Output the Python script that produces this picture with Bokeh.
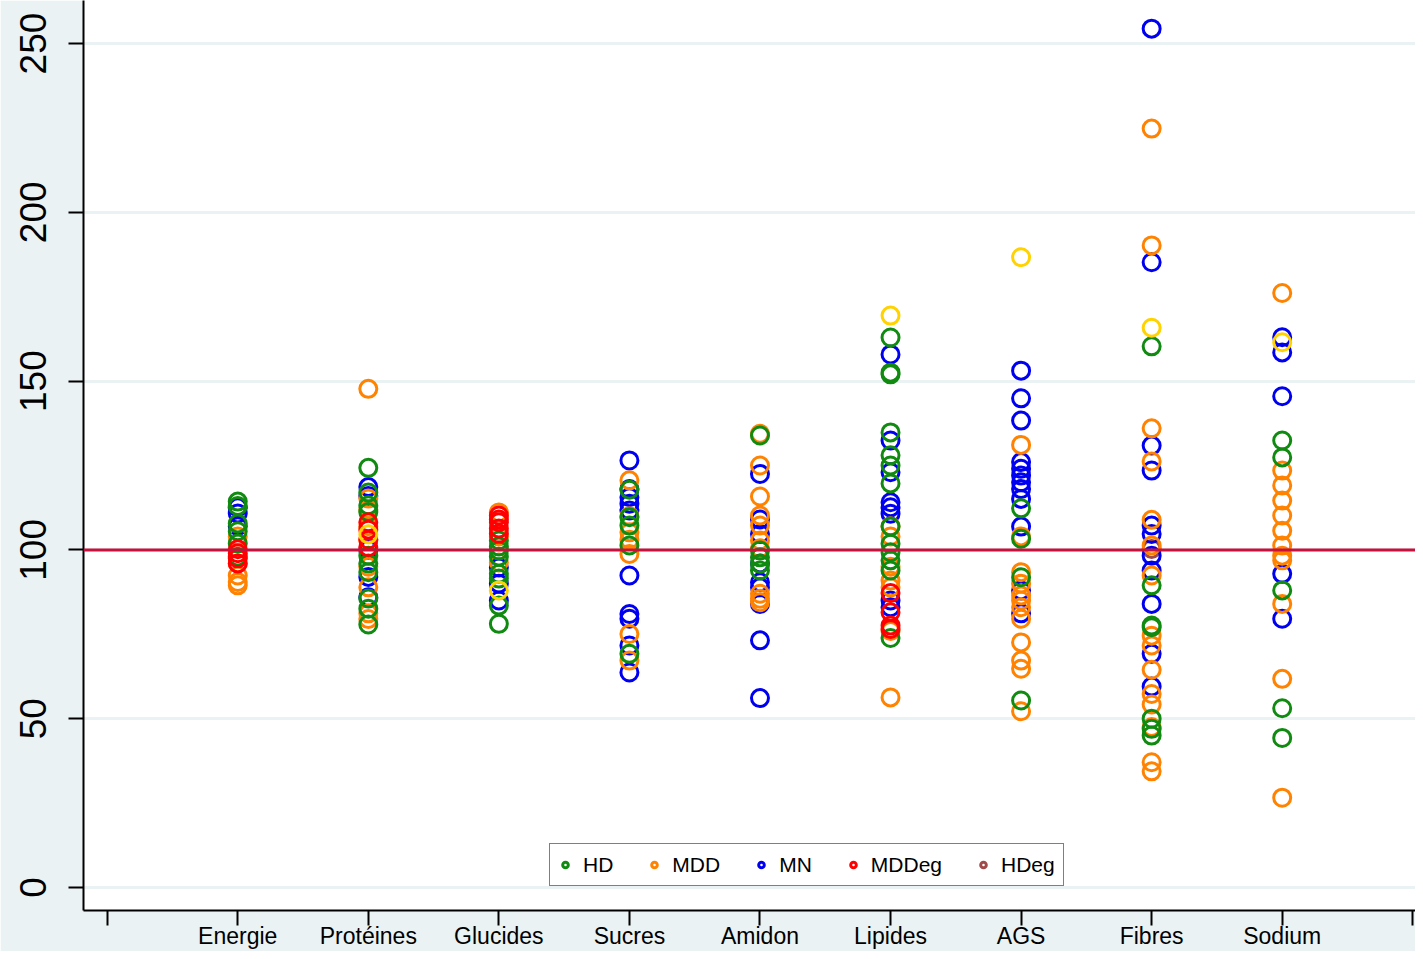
from bokeh.plotting import figure
from bokeh.models import Span, FixedTicker, Legend, LegendItem, ColumnDataSource
from bokeh.embed import file_html
from bokeh.resources import INLINE

categories = ["Energie", "Protéines", "Glucides", "Sucres", "Amidon",
              "Lipides", "AGS", "Fibres", "Sodium"]

# one list of values per category, per series
hd = [
    [114.3, 113.0, 107.8, 105.5, 101.9, 98.0],
    [124.3, 117.0, 113.2, 111.2, 98.3, 96.0, 93.4, 85.6, 82.6, 77.9],
    [102.8, 101.0, 99.8, 98.0, 92.9, 91.5, 83.5, 78.1],
    [117.8, 109.7, 107.2, 101.3, 69.2],
    [133.9, 99.8, 97.8, 95.9, 93.9],
    [162.9, 152.5, 152.0, 134.8, 128.0, 125.0, 119.7, 106.9, 101.8, 99.3, 96.9, 93.9, 73.9],
    [112.3, 103.3, 91.9, 55.4],
    [160.3, 89.5, 77.6, 77.1, 50.0, 47.0, 45.0],
    [132.4, 127.4, 88.0, 53.1, 44.3],
]
mdd = [
    [104.0, 96.0, 92.4, 90.5, 89.5],
    [147.7, 115.2, 112.0, 107.0, 103.0, 95.0, 88.9, 81.2, 79.5],
    [111.1, 104.0, 96.3],
    [120.6, 110.0, 105.2, 103.0, 98.8, 75.1, 67.2],
    [134.4, 125.0, 115.8, 110.2, 107.2, 102.8, 100.5, 87.0, 85.5, 84.5],
    [107.0, 104.0, 95.0, 90.9, 88.9, 76.0, 56.3],
    [131.1, 104.0, 93.4, 90.0, 86.5, 85.0, 83.0, 79.6, 72.6, 67.2, 64.8, 52.2],
    [224.8, 190.2, 136.0, 126.2, 108.9, 101.3, 92.4, 74.6, 71.7, 64.5, 57.3, 54.2, 47.5, 37.1, 34.4],
    [176.1, 123.5, 119.1, 114.6, 110.2, 105.7, 101.3, 98.3, 96.9, 84.0, 61.8, 26.6],
]
mn = [
    [112.6, 110.8, 107.0],
    [118.6, 116.0, 100.0, 92.0, 86.0],
    [94.8, 90.0, 85.0],
    [126.5, 118.0, 115.6, 113.7, 111.7, 92.4, 81.0, 79.6, 71.7, 63.7],
    [122.5, 109.0, 104.7, 96.0, 90.4, 88.9, 84.0, 73.2, 56.1],
    [157.9, 132.4, 123.0, 114.1, 112.6, 110.7, 85.0, 83.0],
    [153.1, 144.9, 138.3, 126.0, 124.0, 122.0, 120.0, 118.0, 115.1, 106.9, 88.0, 81.2],
    [254.4, 185.2, 130.9, 123.5, 107.2, 104.7, 98.3, 93.9, 84.0, 69.2, 59.5],
    [163.0, 158.5, 145.5, 92.9, 79.6],
]
mddeg = [
    [100.2, 99.0, 97.5, 96.0],
    [108.2, 106.0, 103.0, 100.8],
    [110.2, 109.0, 108.2, 106.3, 104.8],
    [], [],
    [87.2, 81.5, 77.6, 76.6],
    [], [], [],
]
hdeg = [[], [], [], [], [], [], [], [100.3], []]
gold = [
    [], [104.6], [88.0], [], [], [169.4], [186.7], [165.8], [161.5],
]

series_names = ["HD", "MDD", "MN", "MDDeg", "HDeg"]
series_colors = {"HD": "#108A10", "MDD": "#FF8200", "MN": "#0000F0",
                 "MDDeg": "#FF0000", "HDeg": "#A04A4A", "gold": "#FFD200"}
y_ticks = [0, 50, 100, 150, 200, 250]
ref_value = 100


def flatten(groups):
    xs, ys = [], []
    for i, vals in enumerate(groups):
        for v in vals:
            xs.append(i + 1)
            ys.append(v)
    return dict(x=xs, y=ys)


BG = "#EAF2F3"
FONT = "Liberation Sans"

p = figure(width=1415, height=951, output_backend="svg", toolbar_location=None,
           x_range=(-0.1815, 10.021), y_range=(-6.82, 262.74),
           min_border_left=83, min_border_right=0, min_border_top=0, min_border_bottom=0)
p.border_fill_color = BG
p.background_fill_color = "white"
p.outline_line_color = None

p.xgrid.grid_line_color = None
p.ygrid.grid_line_color = BG
p.ygrid.grid_line_width = 3

# axes
p.xaxis.ticker = FixedTicker(ticks=list(range(0, 11)))
overrides = {0: "", 10: ""}
for i, c in enumerate(categories):
    overrides[i + 1] = c
p.xaxis.major_label_overrides = overrides
p.yaxis.ticker = FixedTicker(ticks=y_ticks)
p.yaxis.major_label_orientation = "vertical"

for ax in (p.xaxis, p.yaxis):
    ax.axis_line_color = "black"
    ax.axis_line_width = 2
    ax.major_tick_line_color = "black"
    ax.major_tick_line_width = 2
    ax.major_tick_out = 15
    ax.major_tick_in = 0
    ax.minor_tick_line_color = None
    ax.major_label_text_font = FONT
    ax.major_label_text_color = "black"

p.xaxis.major_label_text_font_size = "23px"
p.xaxis.major_label_standoff = -3
p.yaxis.major_label_text_font_size = "37px"
p.yaxis.major_label_standoff = 22

p.add_layout(Span(location=ref_value, dimension="width", line_color="#C8103C", line_width=3))

renderers = {}
for key, groups in [("HDeg", hdeg), ("MN", mn), ("MDD", mdd), ("HD", hd), ("MDDeg", mddeg), ("gold", gold)]:
    src = ColumnDataSource(flatten(groups))
    renderers[key] = p.scatter("x", "y", source=src, marker="circle", size=17, fill_color=None,
                               line_color=series_colors[key], line_width=3)

items = [LegendItem(label=name, renderers=[renderers[name]]) for name in series_names]

legend = Legend(items=items, orientation="horizontal", location=(466, 24),
                label_text_font=FONT, label_text_font_size="21px",
                label_text_color="black",
                glyph_width=14, glyph_height=25, label_standoff=11,
                spacing=34, padding=8, margin=0,
                border_line_color="black", border_line_width=1.5,
                background_fill_color="white", background_fill_alpha=1.0)
p.add_layout(legend, "center")

open("out.html", "w").write(file_html(p, INLINE))
